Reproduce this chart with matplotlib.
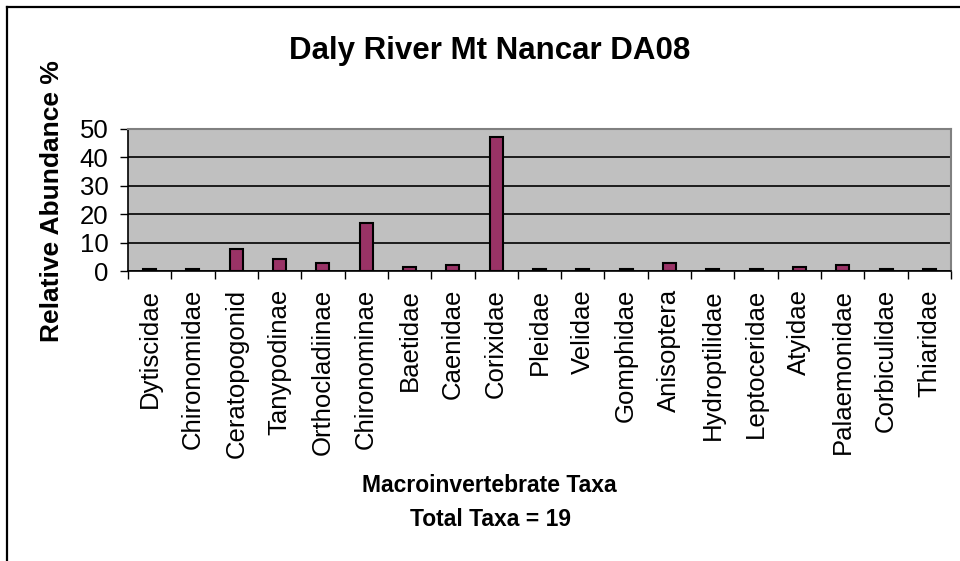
import matplotlib
matplotlib.use("Agg")
import matplotlib.pyplot as plt
from matplotlib.lines import Line2D
import numpy as np

taxa = ["Dytiscidae", "Chironomidae", "Ceratopogonid", "Tanypodinae", "Orthocladiinae",
        "Chironominae", "Baetidae", "Caenidae", "Corixidae", "Pleidae", "Velidae",
        "Gomphidae", "Anisoptera", "Hydroptilidae", "Leptoceridae", "Atyidae",
        "Palaemonidae", "Corbiculidae", "Thiaridae"]
abundance = [0.8, 0.8, 7.9, 4.3, 2.9, 16.8, 1.5, 2.2, 47.3, 0.8, 0.8, 0.8, 2.9,
             0.8, 0.8, 1.5, 2.2, 0.8, 0.8]
y_ticks = [0, 10, 20, 30, 40, 50]

plt.rcParams['font.family'] = ['Liberation Sans', 'DejaVu Sans']

W, H = 960, 561
fig = plt.figure(figsize=(9.6, 5.61), dpi=100)
fig.patch.set_facecolor('white')

left, right, top, bottom = 128, 951, 129, 271
ax = fig.add_axes([left / W, 1 - bottom / H, (right - left) / W, (bottom - top) / H])
ax.set_facecolor('#C0C0C0')

x = np.arange(len(taxa))
ax.bar(x, abundance, width=0.3, color='#993366', edgecolor='black', linewidth=1.5, zorder=3)

ax.set_xlim(-0.5, len(taxa) - 0.5)
ax.set_ylim(0, 50)
ax.set_yticks(y_ticks)
ax.yaxis.grid(True, color='black', linewidth=1.2, zorder=1)
ax.set_axisbelow(True)

ax.set_xticks(x)
ax.set_xticklabels(taxa, rotation=90, fontsize=18.5, va='top', ha='center')
ax.set_xticks(np.arange(-0.5, len(taxa)), minor=True)
ax.tick_params(axis='x', which='major', length=0, pad=13)
ax.tick_params(axis='x', which='minor', length=6, width=1.0, direction='out', color='black')
ax.tick_params(axis='y', which='major', length=6, width=1.0, direction='out', labelsize=18.5, pad=8)

for s in ['top', 'right']:
    ax.spines[s].set_color('#808080')
    ax.spines[s].set_linewidth(1.5)
for s in ['left', 'bottom']:
    ax.spines[s].set_color('black')
    ax.spines[s].set_linewidth(1.2)

# Title and axis titles
fig.text(490 / W, 1 - 59 / H, "Daly River Mt Nancar DA08", fontsize=22.5,
         fontweight='bold', ha='center', va='baseline')
fig.text(52 / W, 1 - 201 / H, "Relative Abundance %", fontsize=19, fontweight='bold',
         rotation=90, ha='center', va='center')
fig.text(489 / W, 1 - 491.7 / H, "Macroinvertebrate Taxa", fontsize=16.5,
         fontweight='bold', ha='center', va='baseline')
fig.text(491 / W, 1 - 526 / H, "Total Taxa = 19", fontsize=16.5,
         fontweight='bold', ha='center', va='baseline')

# Outer chart frame (cropped at right and bottom)
fig.add_artist(Line2D([7 / W, 1.0], [1 - 7 / H, 1 - 7 / H], color='black', linewidth=1.6,
                      transform=fig.transFigure))
fig.add_artist(Line2D([7 / W, 7 / W], [1 - 7 / H, 0.0], color='black', linewidth=1.6,
                      transform=fig.transFigure))

fig.savefig("out.png", dpi=100)
